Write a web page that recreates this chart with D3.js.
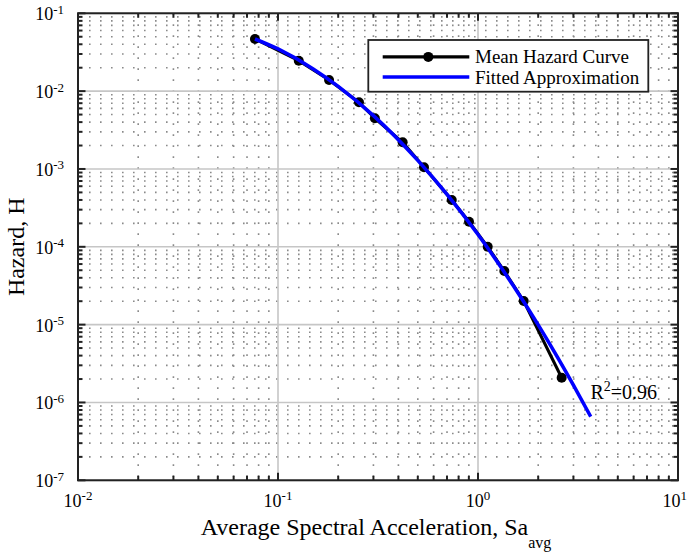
<!DOCTYPE html>
<html>
<head>
<meta charset="utf-8">
<script src="https://cdn.jsdelivr.net/npm/d3@7"></script>
<style>
  html, body { margin: 0; padding: 0; background: #fff; }
  svg { display: block; }
  text { font-family: "Liberation Serif", "Times New Roman", serif; fill: #000; }
</style>
</head>
<body>
<svg id="chart" width="688" height="554"></svg>
<script>
// Mean hazard curve (Sa_avg in g, annual hazard)
const saMean = [0.0767, 0.127, 0.180, 0.254, 0.305, 0.420, 0.537, 0.739, 0.902, 1.118, 1.354, 1.692, 2.62];
const hazMean = [0.0468, 0.0246, 0.0139, 0.00718, 0.00448, 0.00220, 0.00105, 3.99e-4, 2.10e-4, 1.00e-4, 4.89e-5, 2.01e-5, 2.08e-6];

// Fitted approximation, sampled along the curve
const saFit = [0.0767, 0.1, 0.15, 0.2, 0.3, 0.5, 0.7, 1.0, 1.5, 2.0, 2.5, 3.0, 3.66];
const hazFit = [0.0468, 0.0348, 0.0193, 0.0115, 0.00485, 0.00129, 4.72e-4, 1.44e-4, 3.18e-5, 9.93e-6, 3.80e-6, 1.67e-6, 6.58e-7];

// Decade exponents for the tick labels
const xExponents = [-2, -1, 0, 1];
const yExponents = [-7, -6, -5, -4, -3, -2, -1];

const legendLabels = ["Mean Hazard Curve", "Fitted Approximation"];
const r2Text = { base: "R", sup: "2", rest: "=0.96" };

const svg = d3.select("#chart");
const margin = { left: 78, right: 10, top: 13.3, bottom: 73.7 };
const W = 688, H = 554;
const plotW = W - margin.left - margin.right;
const plotH = H - margin.top - margin.bottom;

const x = d3.scaleLog().domain([1e-2, 1e1]).range([margin.left, margin.left + plotW]);
const y = d3.scaleLog().domain([1e-7, 1e-1]).range([margin.top + plotH, margin.top]);

// minor positions (2..9 in every decade)
const minorX = [], minorY = [];
for (let e = -2; e < 1; e++) for (let m = 2; m <= 9; m++) minorX.push(m * Math.pow(10, e));
for (let e = -7; e < -1; e++) for (let m = 2; m <= 9; m++) minorY.push(m * Math.pow(10, e));
const majorX = xExponents.map(e => Math.pow(10, e));
const majorY = yExponents.map(e => Math.pow(10, e));

const grid = svg.append("g");
// dotted minor grid
grid.selectAll("line.mx").data(minorX).enter().append("line")
  .attr("x1", d => x(d)).attr("x2", d => x(d))
  .attr("y1", margin.top).attr("y2", margin.top + plotH)
  .attr("stroke", "#8a8a8a").attr("stroke-width", 1.6).attr("stroke-dasharray", "1.6,9.4");
grid.selectAll("line.my").data(minorY).enter().append("line")
  .attr("y1", d => y(d)).attr("y2", d => y(d))
  .attr("x1", margin.left).attr("x2", margin.left + plotW)
  .attr("stroke", "#8a8a8a").attr("stroke-width", 1.6).attr("stroke-dasharray", "1.6,9.4");
// solid major grid
grid.selectAll("line.Mx").data(majorX).enter().append("line")
  .attr("x1", d => x(d)).attr("x2", d => x(d))
  .attr("y1", margin.top).attr("y2", margin.top + plotH)
  .attr("stroke", "#c6c6c6").attr("stroke-width", 1.6);
grid.selectAll("line.My").data(majorY).enter().append("line")
  .attr("y1", d => y(d)).attr("y2", d => y(d))
  .attr("x1", margin.left).attr("x2", margin.left + plotW)
  .attr("stroke", "#c6c6c6").attr("stroke-width", 1.6);

// data series
const meanPts = saMean.map((s, i) => [s, hazMean[i]]);
const fitPts = saFit.map((s, i) => [s, hazFit[i]]);

const lineStraight = d3.line().x(d => x(d[0])).y(d => y(d[1]));
const lineSmooth = d3.line().x(d => x(d[0])).y(d => y(d[1])).curve(d3.curveMonotoneX);

svg.append("path").datum(meanPts).attr("d", lineStraight)
  .attr("fill", "none").attr("stroke", "#000").attr("stroke-width", 3).attr("stroke-linejoin", "round");
svg.selectAll("circle.pt").data(meanPts).enter().append("circle")
  .attr("cx", d => x(d[0])).attr("cy", d => y(d[1])).attr("r", 5).attr("fill", "#000");
svg.append("path").datum(fitPts).attr("d", lineSmooth)
  .attr("fill", "none").attr("stroke", "#0000ff").attr("stroke-width", 3.6).attr("stroke-linejoin", "round");

// axes box with inward ticks on all four sides
const axisColor = "#222";
const tickMajor = 7.5, tickMinor = 4.5;
const axes = svg.append("g");
const bottomY = margin.top + plotH, topY = margin.top;
const leftX = margin.left, rightX = margin.left + plotW;
const allX = majorX.concat(minorX), allY = majorY.concat(minorY);
allX.forEach(v => {
  const len = majorX.includes(v) ? tickMajor : tickMinor;
  axes.append("line").attr("x1", x(v)).attr("x2", x(v)).attr("y1", bottomY).attr("y2", bottomY - len)
    .attr("stroke", axisColor).attr("stroke-width", 2);
  axes.append("line").attr("x1", x(v)).attr("x2", x(v)).attr("y1", topY).attr("y2", topY + len)
    .attr("stroke", axisColor).attr("stroke-width", 2);
});
allY.forEach(v => {
  const len = majorY.includes(v) ? tickMajor : tickMinor;
  axes.append("line").attr("y1", y(v)).attr("y2", y(v)).attr("x1", leftX).attr("x2", leftX + len)
    .attr("stroke", axisColor).attr("stroke-width", 2);
  axes.append("line").attr("y1", y(v)).attr("y2", y(v)).attr("x1", rightX).attr("x2", rightX - len)
    .attr("stroke", axisColor).attr("stroke-width", 2);
});
axes.append("rect").attr("x", leftX).attr("y", topY).attr("width", plotW).attr("height", plotH)
  .attr("fill", "none").attr("stroke", axisColor).attr("stroke-width", 2);

// tick labels: 10 with superscript exponent
const tickFont = 18, supFont = 13;
xExponents.forEach((e, i) => {
  const last = i === xExponents.length - 1;
  // the rightmost label is pulled in so it stays inside the figure
  const t = svg.append("text")
    .attr("x", last ? W - 1 : x(Math.pow(10, e)))
    .attr("y", bottomY + 26.5)
    .attr("text-anchor", last ? "end" : "middle").attr("font-size", tickFont);
  t.append("tspan").text("10");
  t.append("tspan").attr("dy", -6.5).attr("font-size", supFont).text(e < 0 ? "-" + (-e) : String(e));
});
yExponents.forEach(e => {
  const t = svg.append("text").attr("x", leftX - 14).attr("y", y(Math.pow(10, e)) + 7)
    .attr("text-anchor", "end").attr("font-size", tickFont);
  t.append("tspan").text("10");
  t.append("tspan").attr("dy", -6.5).attr("font-size", supFont).text("-" + (-e));
});

// axis titles
const xt = svg.append("text").attr("x", leftX + plotW / 2 - 2).attr("y", 535)
  .attr("text-anchor", "middle").attr("font-size", 24);
xt.append("tspan").text("Average Spectral Acceleration, Sa");
xt.append("tspan").attr("dy", 13).attr("font-size", 16).text("avg");

svg.append("text").attr("transform", `translate(23.5,${topY + plotH / 2}) rotate(-90)`)
  .attr("text-anchor", "middle").attr("font-size", 24).text("Hazard, H");

// R-squared annotation
const r2 = svg.append("text").attr("x", 590.5).attr("y", 399).attr("font-size", 20);
r2.append("tspan").text(r2Text.base);
r2.append("tspan").attr("dy", -8).attr("font-size", 14).text(r2Text.sup);
r2.append("tspan").attr("dy", 8).text(r2Text.rest);

// legend
const lg = svg.append("g");
lg.append("rect").attr("x", 368.3).attr("y", 40).attr("width", 280).attr("height", 51.7)
  .attr("fill", "#fff").attr("stroke", "#222").attr("stroke-width", 1.8);
const rows = [56.9, 77];
lg.append("line").attr("x1", 382.7).attr("x2", 469.3).attr("y1", rows[0]).attr("y2", rows[0])
  .attr("stroke", "#000").attr("stroke-width", 3.2);
lg.append("circle").attr("cx", 428.3).attr("cy", rows[0]).attr("r", 5).attr("fill", "#000");
lg.append("line").attr("x1", 382.7).attr("x2", 469.3).attr("y1", rows[1]).attr("y2", rows[1])
  .attr("stroke", "#0000ff").attr("stroke-width", 3.6);
legendLabels.forEach((l, i) => {
  lg.append("text").attr("x", 475).attr("y", rows[i] + 6.5).attr("font-size", 19).text(l);
});
</script>
</body>
</html>
